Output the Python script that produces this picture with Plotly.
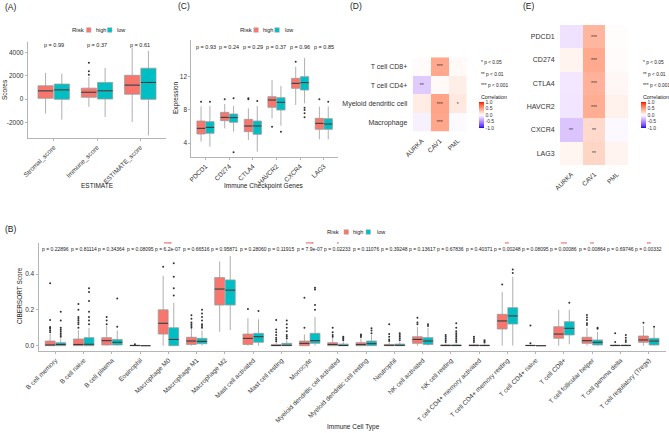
import numpy as np
import plotly.graph_objects as go

W, H = 669, 433
FONT = "Liberation Sans, Arial, Helvetica, sans-serif"
HIGH_COLOR = "#F8766D"
LOW_COLOR = "#00BFC4"
BOX_LINE = "#9A9A9A"
AXIS_LINE = "#B5B5B5"
TICK_TXT = "#333333"

# ---------------- Panel A : ESTIMATE ----------------
a_cats = ["Stromal_score", "Immune_score", "ESTIMATE_score"]
a_high_q1 = [58, 145, 410]
a_high_med = [696, 580, 1190]
a_high_q3 = [1130, 930, 2030]
a_high_lo = [-1246, -670, -1970]
a_high_hi = [2232, 1900, 4406]
a_high_out = [[], [2087, 2377, 3101], []]
a_low_q1 = [-30, 0, -30]
a_low_med = [780, 700, 1420]
a_low_q3 = [1280, 1420, 2640]
a_low_lo = [-1770, -1540, -3130]
a_low_hi = [2170, 2670, 4116]
a_low_out = [[], [], []]
a_pvals = ["p = 0.99", "p = 0.37", "p = 0.61"]

# ---------------- Panel C : immune checkpoint genes ----------------
c_cats = ["PDCD1", "CD274", "CTLA4", "HAVCR2", "CXCR4", "LAG3"]
c_high_q1 = [5.08, 6.68, 5.36, 8.28, 10.56, 5.64]
c_high_med = [5.76, 7.08, 6.04, 9.16, 11.16, 6.36]
c_high_q3 = [6.64, 7.68, 6.84, 9.56, 11.76, 6.96]
c_high_lo = [4.16, 5.76, 4.36, 6.96, 8.56, 4.44]
c_high_hi = [8.4, 8.68, 8.16, 11.56, 13.16, 8.36]
c_high_out = [[8.96], [9.24], [9.24, 9.36], [5.96], [13.76], [9.24]]
c_low_q1 = [5.16, 6.48, 5.04, 7.96, 10.36, 5.64]
c_low_med = [5.88, 7.04, 6.04, 8.88, 11.24, 6.28]
c_low_q3 = [6.56, 7.48, 6.64, 9.44, 11.96, 6.92]
c_low_lo = [3.56, 5.36, 2.96, 6.08, 8.76, 4.44]
c_low_hi = [8.44, 8.44, 8.44, 10.84, 14.2, 8.4]
c_low_out = [[8.96], [9.36, 2.88], [9.04], [5.36], [8.24, 7.96, 7.56, 7.08], [8.96]]
c_pvals = ["p = 0.93", "p = 0.24", "p = 0.29", "p = 0.37", "p = 0.96", "p = 0.85"]

# ---------------- Panel B : CIBERSORT ----------------
b_cats = ["B cell memory", "B cell naive", "B cell plasma", "Eosinophil",
          "Macrophage M0", "Macrophage M1", "Macrophage M2", "Mast cell activated",
          "Mast cell resting", "Monocyte", "Myeloid dendritic cell activated",
          "Myeloid dendritic cell resting", "Neutrophil", "NK cell activated",
          "NK cell resting", "T cell CD4+ memory activated", "T cell CD4+ memory resting",
          "T cell CD4+ naive", "T cell CD8+", "T cell follicular helper",
          "T cell gamma delta", "T cell regulatory (Tregs)"]
b_high_q1 = [0.0, 0.0, 0.004, 0.0, 0.065, 0.007, 0.227, 0.007, 0.0, 0.0, 0.0,
             0.0, 0.0, 0.013, 0.0, 0.0, 0.093, 0.0, 0.041, 0.013, 0.0, 0.019]
b_high_med = [0.004, 0.007, 0.028, 0.001, 0.125, 0.026, 0.316, 0.041, 0.001, 0.013, 0.007,
              0.006, 0.002, 0.035, 0.001, 0.001, 0.138, 0.001, 0.065, 0.028, 0.001, 0.032]
b_high_q3 = [0.026, 0.037, 0.045, 0.003, 0.2, 0.047, 0.38, 0.065, 0.007, 0.026, 0.017,
             0.017, 0.007, 0.05, 0.005, 0.005, 0.175, 0.003, 0.106, 0.047, 0.004, 0.054]
b_high_lo = [0.0, 0.0, 0.0, 0.0, 0.0, 0.0, 0.077, 0.0, 0.0, 0.0, 0.0,
             0.0, 0.0, 0.0, 0.0, 0.0, 0.0, 0.0, 0.0, 0.0, 0.0, 0.0]
b_high_hi = [0.065, 0.087, 0.11, 0.005, 0.39, 0.093, 0.47, 0.153, 0.019, 0.063, 0.045,
             0.04, 0.018, 0.105, 0.012, 0.012, 0.3, 0.005, 0.2, 0.1, 0.01, 0.11]
b_high_out = [[0.075, 0.085, 0.095, 0.1, 0.105, 0.143, 0.348],
              [0.1, 0.12, 0.13, 0.14, 0.15, 0.16, 0.2, 0.233],
              [0.12, 0.14, 0.16],
              [0.008],
              [0.44],
              [0.1, 0.11, 0.12, 0.13, 0.15, 0.17],
              [],
              [0.205],
              [0.025, 0.035, 0.045, 0.06, 0.075, 0.09, 0.143],
              [0.1, 0.268],
              [0.05, 0.06, 0.075, 0.1],
              [0.048, 0.055, 0.063],
              [0.026, 0.035, 0.05, 0.065, 0.12],
              [0.119, 0.13, 0.156],
              [0.02, 0.03, 0.04, 0.05, 0.06],
              [0.02, 0.03, 0.04, 0.05],
              [0.342],
              [0.013, 0.112],
              [],
              [0.115, 0.125, 0.143, 0.157, 0.171],
              [0.02, 0.069],
              [0.128]]
b_low_q1 = [0.0, 0.0, 0.004, 0.0, 0.0, 0.011, 0.227, 0.019, 0.0, 0.013, 0.0,
            0.0, 0.0, 0.007, 0.0, 0.0, 0.121, 0.0, 0.06, 0.004, 0.0, 0.004]
b_low_med = [0.007, 0.008, 0.019, 0.0, 0.035, 0.024, 0.31, 0.05, 0.002, 0.028, 0.001,
             0.011, 0.002, 0.026, 0.001, 0.001, 0.166, 0.0, 0.097, 0.019, 0.001, 0.026]
b_low_q3 = [0.017, 0.045, 0.035, 0.001, 0.1, 0.041, 0.367, 0.069, 0.013, 0.069, 0.009,
            0.026, 0.009, 0.045, 0.005, 0.004, 0.212, 0.001, 0.134, 0.032, 0.004, 0.041]
b_low_lo = [0.0, 0.0, 0.0, 0.0, 0.0, 0.0, 0.087, 0.0, 0.0, 0.0, 0.0,
            0.0, 0.0, 0.0, 0.0, 0.0, 0.0, 0.0, 0.008, 0.0, 0.0, 0.0]
b_low_hi = [0.04, 0.1, 0.085, 0.002, 0.24, 0.084, 0.5, 0.147, 0.03, 0.16, 0.022,
            0.06, 0.02, 0.1, 0.012, 0.01, 0.385, 0.002, 0.2, 0.078, 0.01, 0.097]
b_low_out = [[0.05, 0.06, 0.07, 0.08, 0.09, 0.1, 0.14, 0.19],
             [0.12, 0.14, 0.16, 0.19, 0.25, 0.3, 0.32],
             [0.106, 0.264],
             [],
             [0.28, 0.32, 0.385, 0.46],
             [0.1, 0.11, 0.12, 0.14, 0.16, 0.18, 0.2],
             [],
             [0.193],
             [0.04, 0.05, 0.06, 0.08, 0.1, 0.12, 0.14],
             [0.2, 0.227, 0.314, 0.324],
             [0.03, 0.038, 0.045, 0.05],
             [0.07, 0.085, 0.097],
             [0.03, 0.04, 0.05, 0.06, 0.069],
             [0.11, 0.119],
             [0.02, 0.03, 0.04, 0.05, 0.06, 0.07, 0.08, 0.1, 0.125],
             [0.018, 0.025, 0.03],
             [0.405, 0.425],
             [],
             [0.24],
             [0.095, 0.1],
             [0.02, 0.03, 0.045, 0.06],
             [0.106]]
b_pvals = ["p = 0.22896", "p = 0.81114", "p = 0.34364", "p = 0.08095", "p = 6.2e-07",
           "p = 0.66516", "p = 0.95871", "p = 0.28060", "p = 0.11915", "p = 7.9e-07",
           "p = 0.02233", "p = 0.11076", "p = 0.39248", "p = 0.13617", "p = 0.67836",
           "p = 0.40371", "p = 0.00248", "p = 0.08095", "p = 0.00086", "p = 0.00864",
           "p = 0.69746", "p = 0.00332"]
b_stars = ["", "", "", "", "****", "", "", "", "", "****", "*", "", "", "", "", "",
           "**", "", "***", "**", "", "**"]

# ---------------- Panel D : heatmap immune cells ----------------
d_cols = ["AURKA", "CAV1", "PML"]
d_rows = ["T cell CD8+", "T cell CD4+", "Myeloid dendritic cell", "Macrophage"]
d_vals = [[0.02, 0.45, 0.03],
          [-0.22, 0.03, 0.09],
          [0.10, 0.47, 0.12],
          [-0.06, 0.46, -0.02]]
d_sig = [["", "***", ""],
         ["**", "", ""],
         ["", "***", "*"],
         ["", "***", ""]]

# ---------------- Panel E : heatmap checkpoint genes ----------------
e_cols = ["AURKA", "CAV1", "PML"]
e_rows = ["PDCD1", "CD274", "CTLA4", "HAVCR2", "CXCR4", "LAG3"]
e_vals = [[-0.12, 0.38, 0.01],
          [0.06, 0.44, 0.02],
          [-0.10, 0.40, 0.04],
          [-0.11, 0.42, 0.07],
          [-0.25, 0.20, -0.03],
          [0.05, 0.22, 0.06]]
e_sig = [["", "***", ""],
         ["", "***", ""],
         ["", "***", ""],
         ["", "***", ""],
         ["**", "**", ""],
         ["", "**", ""]]

sig_legend = ["* p < 0.05", "** p < 0.01", "*** p < 0.001"]
cbar_ticks = [-1.0, -0.5, 0.0, 0.5, 1.0]


# ---------- colour scale (Lab interpolation like ggplot gradient2) ----------
def _to_lab(hexc):
    rgb = np.array([int(hexc[i:i + 2], 16) for i in (1, 3, 5)]) / 255.0
    lin = np.where(rgb <= 0.04045, rgb / 12.92, ((rgb + 0.055) / 1.055) ** 2.4)
    M = np.array([[0.4124, 0.3576, 0.1805], [0.2126, 0.7152, 0.0722], [0.0193, 0.1192, 0.9505]])
    xyz = M @ lin / np.array([0.95047, 1.0, 1.08883])
    f = np.where(xyz > 0.008856, np.cbrt(xyz), 7.787 * xyz + 16 / 116)
    return np.array([116 * f[1] - 16, 500 * (f[0] - f[1]), 200 * (f[1] - f[2])])


def _to_rgb(lab):
    fy = (lab[0] + 16) / 116
    fx = fy + lab[1] / 500
    fz = fy - lab[2] / 200
    f = np.array([fx, fy, fz])
    xyz = np.where(f ** 3 > 0.008856, f ** 3, (f - 16 / 116) / 7.787) * np.array([0.95047, 1.0, 1.08883])
    Mi = np.array([[3.2406, -1.5372, -0.4986], [-0.9689, 1.8758, 0.0415], [0.0557, -0.2040, 1.0570]])
    lin = np.clip(Mi @ xyz, 0, 1)
    s = np.where(lin <= 0.0031308, 12.92 * lin, 1.055 * lin ** (1 / 2.4) - 0.055)
    r, g, b = (np.clip(s, 0, 1) * 255).round().astype(int)
    return f"rgb({r},{g},{b})"


_w, _r, _b = _to_lab("#FFFFFF"), _to_lab("#FF0000"), _to_lab("#0000FF")
CSCALE = []
for t in np.linspace(0, 1, 21):
    v = 2 * t - 1
    lab = _w + (_b - _w) * (-v) if v < 0 else _w + (_r - _w) * v
    CSCALE.append([float(t), _to_rgb(lab)])


def xd(a, b):
    return [a / W, b / W]


def yd(top, bottom):
    return [1 - bottom / H, 1 - top / H]


fig = go.Figure()

OFF = 0.1875
BW = 0.35


def add_group(pos, q1, med, q3, lo, hi, outs, color, xa, ya):
    fig.add_trace(go.Box(x=pos, q1=q1, median=med, q3=q3, lowerfence=lo, upperfence=hi,
                         width=BW, fillcolor=color, line=dict(color=BOX_LINE, width=0.8),
                         whiskerwidth=0, boxpoints=False, xaxis=xa, yaxis=ya,
                         hoverinfo="skip", showlegend=False))
    mx, my = [], []
    for p, m in zip(pos, med):
        mx += [p - BW / 2, p + BW / 2, None]
        my += [m, m, None]
    fig.add_trace(go.Scatter(x=mx, y=my, mode="lines", line=dict(color="#333333", width=1),
                             xaxis=xa, yaxis=ya, hoverinfo="skip", showlegend=False))
    ox, oy = [], []
    for p, o in zip(pos, outs):
        ox += [p] * len(o)
        oy += list(o)
    fig.add_trace(go.Scatter(x=ox, y=oy, mode="markers", marker=dict(size=2, color="#333333"),
                             xaxis=xa, yaxis=ya, hoverinfo="skip", showlegend=False))


def positions(n):
    base = np.arange(1, n + 1, dtype=float)
    return base - OFF, base + OFF


# A
ph, pl = positions(len(a_cats))
add_group(ph, a_high_q1, a_high_med, a_high_q3, a_high_lo, a_high_hi, a_high_out, HIGH_COLOR, "x", "y")
add_group(pl, a_low_q1, a_low_med, a_low_q3, a_low_lo, a_low_hi, a_low_out, LOW_COLOR, "x", "y")
# C
ph, pl = positions(len(c_cats))
add_group(ph, c_high_q1, c_high_med, c_high_q3, c_high_lo, c_high_hi, c_high_out, HIGH_COLOR, "x2", "y2")
add_group(pl, c_low_q1, c_low_med, c_low_q3, c_low_lo, c_low_hi, c_low_out, LOW_COLOR, "x2", "y2")
# B
ph, pl = positions(len(b_cats))
add_group(ph, b_high_q1, b_high_med, b_high_q3, b_high_lo, b_high_hi, b_high_out, HIGH_COLOR, "x3", "y3")
add_group(pl, b_low_q1, b_low_med, b_low_q3, b_low_lo, b_low_hi, b_low_out, LOW_COLOR, "x3", "y3")


def cbar(xpx):
    return dict(x=xpx / W, xanchor="left", y=1 - 102 / H, yanchor="top",
                len=26, lenmode="pixels", thickness=5, thicknessmode="pixels",
                outlinewidth=0, xpad=0, ypad=0, ticks="",
                tickvals=cbar_ticks, ticktext=[f"{v:.1f}" for v in cbar_ticks],
                tickfont=dict(size=5, color="#333333", family=FONT))


fig.add_trace(go.Heatmap(z=d_vals, x=d_cols, y=d_rows, text=d_sig, texttemplate="%{text}",
                         textfont=dict(size=5, color="#333333", family=FONT),
                         colorscale=CSCALE, zmin=-1, zmax=1, xaxis="x4", yaxis="y4",
                         colorbar=cbar(479), hoverinfo="skip"))
fig.add_trace(go.Heatmap(z=e_vals, x=e_cols, y=e_rows, text=e_sig, texttemplate="%{text}",
                         textfont=dict(size=5, color="#333333", family=FONT),
                         colorscale=CSCALE, zmin=-1, zmax=1, xaxis="x5", yaxis="y5",
                         colorbar=cbar(641), hoverinfo="skip"))


def box_x(domain, cats, size):
    return dict(domain=domain, range=[0.4, len(cats) + 0.6], showline=True, linecolor=AXIS_LINE,
                linewidth=1, ticks="outside", ticklen=2, tickcolor=AXIS_LINE, showgrid=False,
                zeroline=False, tickvals=list(range(1, len(cats) + 1)), ticktext=cats,
                tickangle=-45, tickfont=dict(size=size, color=TICK_TXT, family=FONT),
                automargin=False, fixedrange=True)


def box_y(domain, rng, tv, tt, anchor):
    return dict(domain=domain, range=rng, showline=True, linecolor=AXIS_LINE, linewidth=1,
                ticks="outside", ticklen=2, tickcolor=AXIS_LINE, showgrid=False, zeroline=False,
                tickvals=tv, ticktext=tt, tickfont=dict(size=6.5, color=TICK_TXT, family=FONT),
                automargin=False, anchor=anchor)


def hm_x(domain, anchor):
    return dict(domain=domain, anchor=anchor, showline=False, showgrid=False, zeroline=False,
                ticks="outside", ticklen=2, tickcolor="rgba(0,0,0,0)", tickangle=-45,
                tickfont=dict(size=6.5, color="#333333", family=FONT), automargin=False)


def hm_y(domain, anchor):
    return dict(domain=domain, anchor=anchor, showline=False, showgrid=False, zeroline=False,
                ticks="outside", ticklen=3, tickcolor="rgba(0,0,0,0)", autorange="reversed",
                tickfont=dict(size=7, color="#333333", family=FONT), automargin=False)


a_ticks = [-2000, 0, 2000, 4000]
c_ticks = [4, 8, 12]
b_ticks = [0.0, 0.2, 0.4]

fig.update_layout(
    width=W, height=H, margin=dict(l=0, r=0, t=0, b=0),
    paper_bgcolor="white", plot_bgcolor="white", template="none", showlegend=False,
    font=dict(family=FONT, color="#333333"),
    xaxis=box_x(xd(27.7, 166.3), a_cats, 6.5) | dict(anchor="y"),
    yaxis=box_y(yd(42, 138), [-3343, 4886], a_ticks, [str(v) for v in a_ticks], "x"),
    xaxis2=box_x(xd(191.3, 338), c_cats, 6.5) | dict(anchor="y2"),
    yaxis2=box_y(yd(40, 157), [2.32, 16.36], c_ticks, [str(v) for v in c_ticks], "x2"),
    xaxis3=box_x(xd(38.5, 665.7), b_cats, 6.5) | dict(anchor="y3"),
    yaxis3=box_y(yd(243, 351), [-0.0296, 0.573], b_ticks, [f"{v:.1f}" for v in b_ticks], "x3"),
    xaxis4=hm_x(xd(412.7, 466.7), "y4"),
    yaxis4=hm_y(yd(57.3, 131.7), "x4"),
    xaxis5=hm_x(xd(560, 628.3), "y5"),
    yaxis5=hm_y(yd(25, 165), "x5"),
)

ann = []


def txt(xp, yp, s, size, xanchor="center", color="#1A1A1A", angle=0):
    ann.append(dict(x=xp / W, y=1 - yp / H, xref="paper", yref="paper", text=s, showarrow=False,
                    xanchor=xanchor, yanchor="middle", textangle=angle,
                    font=dict(size=size, color=color, family=FONT)))


# panel tags
txt(3, 7, "(A)", 8.5, "left")
txt(176, 6, "(C)", 8.5, "left")
txt(348, 6, "(D)", 8.5, "left")
txt(521, 6, "(E)", 8.5, "left")
txt(3, 229, "(B)", 8.5, "left")

# axis titles
txt(5, 90, "Scores", 6.5, angle=-90)
txt(97, 185, "ESTIMATE", 6.5)
txt(176, 98, "Expression", 6.5, angle=-90)
txt(264, 186, "Immune Checkpoint Genes", 6.5)
txt(19, 296, "CIBERSORT Score", 6.5, angle=-90)
txt(353, 427, "Immune Cell Type", 6.5)

# p-values
for i, p in enumerate(a_pvals):
    ann.append(dict(x=i + 1, y=4600, xref="x", yref="y", text=p, showarrow=False,
                    font=dict(size=5.5, color="#1A1A1A", family=FONT)))
for i, p in enumerate(c_pvals):
    ann.append(dict(x=i + 1, y=15.55, xref="x2", yref="y2", text=p, showarrow=False,
                    font=dict(size=5.5, color="#1A1A1A", family=FONT)))
for i, p in enumerate(b_pvals):
    ann.append(dict(x=i + 1, y=0.538, xref="x3", yref="y3", text=p, showarrow=False,
                    font=dict(size=5, color="#1A1A1A", family=FONT)))
    if b_stars[i]:
        ann.append(dict(x=i + 1, y=0.568, xref="x3", yref="y3", text=b_stars[i], showarrow=False,
                        font=dict(size=5, color="#E8201C", family=FONT)))

# significance legends + colour bar titles
for xp in (479, 640.5):
    for k, s in enumerate(sig_legend):
        txt(xp, 62.5 + 11.6 * k, s, 4.8, "left")
    txt(xp, 96.5, "Correlation", 5.3, "left")

# Risk legends
shapes = []


def risk_legend(x_risk, sq1, x_high, sq2, x_low, yc):
    txt(x_risk, yc, "Risk", 6, "left")
    txt(x_high, yc, "high", 5.5, "left")
    txt(x_low, yc, "low", 5.5, "left")
    for sx, col in ((sq1, HIGH_COLOR), (sq2, LOW_COLOR)):
        shapes.append(dict(type="rect", xref="paper", yref="paper",
                           x0=sx / W, x1=(sx + 4.5) / W, y0=1 - (yc + 2.3) / H, y1=1 - (yc - 2.3) / H,
                           fillcolor=col, line=dict(color="#B0B0B0", width=0.5)))


risk_legend(70, 86.5, 93.5, 107.5, 115, 30)
risk_legend(237.7, 253.8, 261, 274.8, 282.5, 30)
risk_legend(325, 344, 351, 366, 374.5, 232)

fig.update_layout(annotations=ann, shapes=shapes)
fig.write_html("out.html", config={"displayModeBar": False, "staticPlot": True},
               post_script="document.body.style.margin='0px';")
